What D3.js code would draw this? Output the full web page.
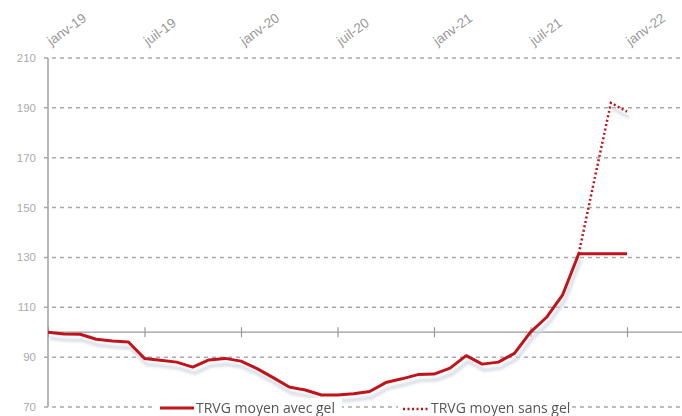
<!DOCTYPE html>
<html><head><meta charset="utf-8">
<script src="https://cdn.jsdelivr.net/npm/d3@7"></script>
<style>html,body{margin:0;padding:0;background:#fff;}svg{display:block;}</style>
</head><body><svg id="c" width="682" height="416"></svg>
<script>
const months = ["2019-01","2019-02","2019-03","2019-04","2019-05","2019-06","2019-07","2019-08","2019-09","2019-10","2019-11","2019-12",
"2020-01","2020-02","2020-03","2020-04","2020-05","2020-06","2020-07","2020-08","2020-09","2020-10","2020-11","2020-12",
"2021-01","2021-02","2021-03","2021-04","2021-05","2021-06","2021-07","2021-08","2021-09","2021-10","2021-11","2021-12","2022-01"];
const avecGel = [100,99.3,99.2,97.2,96.5,96.1,89.5,88.8,88,86,88.9,89.5,88.4,85.4,81.8,78,76.8,74.8,74.8,75.3,76.2,79.8,81.3,83,83.2,85.6,90.6,87.2,88,91.5,100,106,115,131.5,131.5,131.5,131.5];
const sansGel = [null,null,null,null,null,null,null,null,null,null,null,null,null,null,null,null,null,null,null,null,null,null,null,null,null,null,null,null,null,null,null,null,null,131.5,162,192,188.5];
const tickMonths = ["2019-01","2019-07","2020-01","2020-07","2021-01","2021-07","2022-01"];
const tickLabels = ["janv-19","juil-19","janv-20","juil-20","janv-21","juil-21","janv-22"];
const yTicks = [70,90,110,130,150,170,190,210];
const legendLabels = ["TRVG moyen avec gel","TRVG moyen sans gel"];

const svg = d3.select("#c");
const red = "#c0141c";
const x = d3.scalePoint().domain(months).range([48,627]);
const y = d3.scaleLinear().domain([70,210]).range([407,58]);

// gridlines
svg.append("g").selectAll("line").data(yTicks).join("line")
  .attr("x1",44).attr("x2",682).attr("y1",d=>y(d)).attr("y2",d=>y(d))
  .attr("stroke","#a9a9a9").attr("stroke-width",1.5).attr("stroke-dasharray","4,4");
// y labels
svg.append("g").selectAll("text").data(yTicks).join("text")
  .attr("x",36).attr("y",d=>y(d)+4).attr("text-anchor","end")
  .attr("font-family","Liberation Sans, Arial, sans-serif").attr("font-size",11.5)
  .attr("fill","#ababab").text(d=>d);
// y axis line
svg.append("line").attr("x1",48).attr("x2",48).attr("y1",y(210)).attr("y2",y(70))
  .attr("stroke","#a0a0a0").attr("stroke-width",1.5);
// horizontal base line at 100 with ticks
const base = d3.axisBottom(x).tickValues(tickMonths).tickSize(0).tickFormat("");
const gb = svg.append("g").attr("transform",`translate(0,${y(100)})`).call(base);
gb.select(".domain").remove();
gb.append("line").attr("x1",48).attr("x2",682).attr("stroke","#9a9a9a").attr("stroke-width",1.2);
gb.selectAll(".tick").append("line").attr("y1",-5).attr("y2",5).attr("stroke","#9a9a9a").attr("stroke-width",1.2);
// top labels
const gt = svg.append("g").attr("transform","translate(0,46)")
  .call(d3.axisTop(x).tickValues(tickMonths).tickSize(0).tickFormat((d,i)=>tickLabels[i]));
gt.select(".domain").remove();
gt.selectAll("text").attr("transform","translate(3,0) rotate(-36)").attr("text-anchor","start")
  .attr("x",0).attr("y",0).attr("dy",0)
  .attr("font-family","Liberation Sans, Arial, sans-serif").attr("font-size",13.5).attr("fill","#999");

// shadow filter
const defs = svg.append("defs");
defs.append("filter").attr("id","blur").append("feGaussianBlur").attr("stdDeviation",1.2);

const line = d3.line().defined(d=>d!=null).x((d,i)=>x(months[i])).y(d=>y(d));
const shadowG = svg.append("g").attr("transform","translate(2,6)").attr("filter","url(#blur)");
shadowG.append("path").attr("d",line(avecGel.map((d,i)=>i<=33?d:null)))
  .attr("fill","none").attr("stroke","#d3d9e1").attr("stroke-width",4).attr("opacity",0.75);
shadowG.append("path").attr("d",line(sansGel.map((d,i)=>i>=35?d:null)))
  .attr("fill","none").attr("stroke","#d3d9e1").attr("stroke-width",3).attr("opacity",0.8);

svg.append("path").attr("d",line(sansGel)).attr("fill","none").attr("stroke",red)
  .attr("stroke-width",2.5).attr("stroke-dasharray","2,2.5");
svg.append("path").attr("d",line(avecGel)).attr("fill","none").attr("stroke",red)
  .attr("stroke-width",3).attr("stroke-linejoin","round");

// legend
const lg = svg.append("g");
lg.append("rect").attr("x",156).attr("y",398).attr("width",186).attr("height",18).attr("fill","#fff");
lg.append("rect").attr("x",398).attr("y",398).attr("width",174).attr("height",18).attr("fill","#fff");
lg.append("line").attr("x1",160).attr("x2",194).attr("y1",408).attr("y2",408).attr("stroke",red).attr("stroke-width",3);
lg.append("line").attr("x1",403).attr("x2",429).attr("y1",409).attr("y2",409).attr("stroke",red).attr("stroke-width",2.5).attr("stroke-dasharray","2,2.5");
lg.selectAll("text").data(legendLabels).join("text")
  .attr("x",(d,i)=>i?431:196).attr("y",413)
  .attr("font-family","Open Sans, sans-serif").attr("font-size",14).attr("fill","#555").text(d=>d);
</script></body></html>
